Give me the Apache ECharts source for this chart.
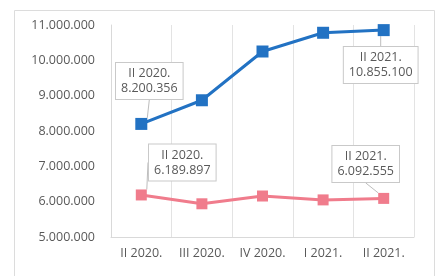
<!DOCTYPE html>
<html>
<head>
<meta charset="utf-8">
<script src="https://cdn.jsdelivr.net/npm/echarts@6/dist/echarts.min.js"></script>
<style>
  html, body { margin: 0; padding: 0; background: #fff; }
  #chart { width: 444px; height: 276px; }
</style>
</head>
<body>
<div id="chart"></div>
<script>
var categories = ["II 2020.", "III 2020.", "IV 2020.", "I 2021.", "II 2021."];
var blueValues = [8200356, 8870000, 10250000, 10780000, 10855100];
var pinkValues = [6189897, 5940000, 6160000, 6050000, 6092555];
var yMin = 5000000, yMax = 11000000, yStep = 1000000;

// where each callout sits relative to its default "top" spot
var blueShift = { 0: [8, -14], 4: [-3, 64] };
var pinkShift = { 0: [41, -4], 4: [-18, -6] };

function fmt(v) {
  return String(v).replace(/\B(?=(\d{3})+(?!\d))/g, ".");
}

function withCallouts(values) {
  return values.map(function (v, i) {
    var show = i === 0 || i === values.length - 1;
    return {
      value: v,
      label: { show: show },
      labelLine: { show: show }
    };
  });
}

var calloutLabel = {
  position: "top",
  distance: 5,
  formatter: function (p) {
    return p.name + "\n" + fmt(p.value);
  },
  fontFamily: "Open Sans",
  fontSize: 12.5,
  lineHeight: 15,
  color: "#595959",
  align: "center",
  backgroundColor: "#fff",
  borderColor: "#c9c9c9",
  borderWidth: 1,
  padding: [3, 5]
};

var chart = echarts.init(document.getElementById("chart"));
var option = {
  backgroundColor: "#fff",
  animation: false,
  graphic: [
    {
      type: "rect",
      shape: { x: 14.5, y: 10.5, width: 420, height: 290 },
      style: { fill: "none", stroke: "#dcdcdc", lineWidth: 1 },
      silent: true
    }
  ],
  grid: { left: 111, right: 30, top: 25, bottom: 39 },
  xAxis: {
    type: "category",
    data: categories,
    boundaryGap: true,
    axisLine: { lineStyle: { color: "#d9d9d9" } },
    axisTick: { show: false },
    splitLine: { show: true, lineStyle: { color: "#e3e3e3" } },
    axisLabel: {
      color: "#595959",
      fontFamily: "Open Sans",
      fontSize: 12.5,
      margin: 10,
      interval: 0
    }
  },
  yAxis: {
    type: "value",
    min: yMin,
    max: yMax,
    interval: yStep,
    axisLine: { show: true, lineStyle: { color: "#d9d9d9" } },
    axisTick: { show: false },
    splitLine: { show: false },
    axisLabel: {
      color: "#595959",
      fontFamily: "Open Sans",
      fontSize: 12.5,
      margin: 16,
      formatter: fmt
    }
  },
  series: [
    {
      name: "blue",
      type: "line",
      data: withCallouts(blueValues),
      symbol: "rect",
      symbolSize: 12,
      color: "#2272c3",
      lineStyle: { width: 3, color: "#2272c3" },
      label: calloutLabel,
      labelLine: { lineStyle: { color: "#bdbdbd", width: 1 } },
      labelLayout: function (p) {
        var s = blueShift[p.dataIndex] || [0, 0];
        return { dx: s[0], dy: s[1] };
      },
      z: 3
    },
    {
      name: "pink",
      type: "line",
      data: withCallouts(pinkValues),
      symbol: "rect",
      symbolSize: 11,
      color: "#f07c8c",
      lineStyle: { width: 3, color: "#f07c8c" },
      label: calloutLabel,
      labelLine: { lineStyle: { color: "#bdbdbd", width: 1 } },
      labelLayout: function (p) {
        var s = pinkShift[p.dataIndex] || [0, 0];
        return { dx: s[0], dy: s[1] };
      },
      z: 2
    }
  ]
};
chart.setOption(option);
</script>
</body>
</html>
